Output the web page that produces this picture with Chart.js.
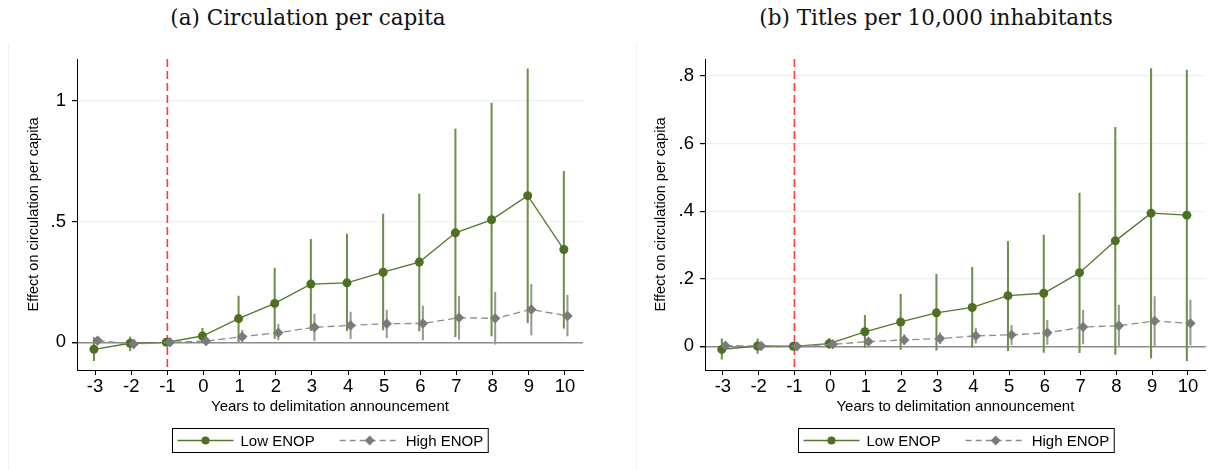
<!DOCTYPE html>
<html>
<head>
<meta charset="utf-8">
<script src="https://cdn.jsdelivr.net/npm/chart.js@4"></script>
<style>
  body { margin: 0; background: #fff; }
  #page { position: relative; width: 1211px; height: 470px; overflow: hidden; }
  .title { position: absolute; top: 5px; font-family: "DejaVu Serif", "Liberation Serif", serif; font-size: 21.5px; color: #111; white-space: nowrap; transform: translateX(-50%); }
  .frame { position: absolute; top: 43px; width: 1px; height: 427px; background: #edf1f1; }
  .box { position: absolute; top: 0; height: 470px; }
</style>
</head>
<body>
<div id="page">
  <div class="title" style="left:308px">(a) Circulation per capita</div>
  <div class="title" style="left:936px">(b) Titles per 10,000 inhabitants</div>
  <div class="frame" style="left:8px"></div>
  <div class="frame" style="left:636px"></div>
  <div class="box" style="left:0; width:610px"><canvas id="chartA"></canvas></div>
  <div class="box" style="left:630px; width:581px"><canvas id="chartB"></canvas></div>
</div>
<script>
// years relative to the delimitation announcement
const years = [-3, -2, -1, 0, 1, 2, 3, 4, 5, 6, 7, 8, 9, 10];
const xTicks = [-3, -2, -1, 0, 1, 2, 3, 4, 5, 6, 7, 8, 9, 10];
const refYear = -1;
const lowShift = -0.03;
const highShift = 0.07;

// (a) circulation per capita
const circLow = [-0.029, -0.004, 0, 0.026, 0.098, 0.161, 0.241, 0.246, 0.290, 0.332, 0.453, 0.507, 0.607, 0.384];
const circLowLo = [-0.076, -0.035, null, 0.002, 0.002, 0.016, 0.048, 0.048, 0.051, 0.047, 0.023, 0.026, 0.081, 0.058];
const circLowHi = [0.020, 0.022, null, 0.058, 0.191, 0.307, 0.426, 0.448, 0.531, 0.614, 0.883, 0.990, 1.132, 0.708];
const circHigh = [0.007, -0.007, 0, 0.005, 0.023, 0.040, 0.062, 0.070, 0.077, 0.078, 0.102, 0.099, 0.136, 0.109];
const circHighLo = [-0.010, -0.025, null, -0.005, 0.002, 0.010, 0.007, 0.015, 0.019, 0.010, 0.012, -0.008, 0.030, 0.026];
const circHighHi = [0.020, 0.010, null, 0.020, 0.050, 0.074, 0.117, 0.125, 0.133, 0.150, 0.191, 0.207, 0.240, 0.195];
const circYTicks = [0, 0.5, 1];
const circYLabels = ["0", ".5", "1"];

// (b) titles per 10,000 inhabitants
const titlesLow = [-0.009, 0.001, 0, 0.008, 0.043, 0.072, 0.099, 0.115, 0.150, 0.157, 0.218, 0.312, 0.394, 0.388];
const titlesLowLo = [-0.038, -0.021, null, -0.006, -0.003, -0.009, -0.011, -0.003, -0.013, -0.018, -0.019, -0.024, -0.034, -0.043];
const titlesLowHi = [0.022, 0.022, null, 0.024, 0.092, 0.154, 0.213, 0.234, 0.311, 0.329, 0.453, 0.648, 0.822, 0.817];
const titlesHigh = [0.002, 0.001, 0, 0.006, 0.014, 0.019, 0.023, 0.031, 0.034, 0.040, 0.057, 0.061, 0.075, 0.068];
const titlesHighLo = [-0.008, -0.008, null, -0.002, 0.004, 0.005, 0.008, 0.009, 0.005, 0.006, 0.007, 0.001, 0.001, 0.004];
const titlesHighHi = [0.012, 0.010, null, 0.014, 0.025, 0.035, 0.040, 0.054, 0.062, 0.077, 0.107, 0.122, 0.147, 0.137];
const titlesYTicks = [0, 0.2, 0.4, 0.6, 0.8];
const titlesYLabels = ["0", ".2", ".4", ".6", ".8"];

const GREEN = "#55772d";
const GREEN_DOT = "#4d7024";
const GREEN_CI = "#6f8f4c";
const GREY = "#8c8c8c";
const GREY_DOT = "#7a7a7a";
const GREY_CI = "#999999";
const SANS = "'Liberation Sans', Arial, sans-serif";

function points(vals, shift) {
  return years.map((yr, i) => ({ x: yr + shift, y: vals[i] }));
}
function bars(lo, hi, shift) {
  return years
    .map((yr, i) => (lo[i] === null ? null : { x: yr + shift, y: [lo[i], hi[i]] }))
    .filter((d) => d !== null);
}

// red dashed line at the reference year
const refLine = {
  id: "refLine",
  beforeDatasetsDraw(chart) {
    const { ctx, chartArea } = chart;
    const x = chart.scales.x.getPixelForValue(refYear);
    ctx.save();
    ctx.strokeStyle = "#ff3b3b";
    ctx.lineWidth = 1.6;
    ctx.setLineDash([8, 4]);
    ctx.beginPath();
    ctx.moveTo(x, chartArea.top);
    ctx.lineTo(x, chartArea.bottom);
    ctx.stroke();
    ctx.restore();
  },
};

// Stata style legend box under the x axis title
const boxLegend = {
  id: "boxLegend",
  afterDraw(chart) {
    const { ctx, chartArea } = chart;
    ctx.save();
    ctx.font = "15px " + SANS;
    const t1 = "Low ENOP";
    const t2 = "High ENOP";
    const w1 = ctx.measureText(t1).width;
    const w2 = ctx.measureText(t2).width;
    const width = 5 + 56 + 7 + w1 + 25 + 60 + 6 + w2 + 5;
    const left = Math.round((chartArea.left + chartArea.right) / 2 - width / 2) + 0.5;
    const top = chartArea.bottom + 58.5;
    const h = 24;
    const mid = top + h / 2;
    ctx.strokeStyle = "#000";
    ctx.lineWidth = 1;
    ctx.strokeRect(left, top, width, h);

    let x = left + 5;
    ctx.strokeStyle = GREEN;
    ctx.lineWidth = 1.3;
    ctx.beginPath();
    ctx.moveTo(x, mid);
    ctx.lineTo(x + 56, mid);
    ctx.stroke();
    ctx.fillStyle = GREEN_DOT;
    ctx.beginPath();
    ctx.arc(x + 28, mid, 4, 0, Math.PI * 2);
    ctx.fill();
    x += 63;
    ctx.fillStyle = "#000";
    ctx.textBaseline = "middle";
    ctx.fillText(t1, x, mid + 1);
    x += w1 + 25;

    ctx.strokeStyle = GREY;
    ctx.setLineDash([6, 4]);
    ctx.beginPath();
    ctx.moveTo(x, mid);
    ctx.lineTo(x + 60, mid);
    ctx.stroke();
    ctx.setLineDash([]);
    ctx.fillStyle = GREY_DOT;
    ctx.beginPath();
    ctx.moveTo(x + 30 - 5, mid);
    ctx.lineTo(x + 30, mid - 5);
    ctx.lineTo(x + 30 + 5, mid);
    ctx.lineTo(x + 30, mid + 5);
    ctx.closePath();
    ctx.fill();
    x += 66;
    ctx.fillStyle = "#000";
    ctx.fillText(t2, x, mid + 1);
    ctx.restore();
  },
};

function makeChart(id, low, lowLo, lowHi, high, highLo, highHi, yTicks, yLabels, yMin, yMax, padLeft, titlePad, padRight) {
  return new Chart(document.getElementById(id), {
    type: "line",
    data: {
      datasets: [
        {
          type: "bar",
          data: bars(lowLo, lowHi, lowShift),
          backgroundColor: GREEN_CI,
          borderWidth: 0,
          barThickness: 1.4,
          maxBarThickness: 1.4,
          grouped: false,
          order: 4,
        },
        {
          type: "bar",
          data: bars(highLo, highHi, highShift),
          backgroundColor: GREY_CI,
          borderWidth: 0,
          barThickness: 1.4,
          maxBarThickness: 1.4,
          grouped: false,
          order: 3,
        },
        {
          label: "Low ENOP",
          data: points(low, lowShift),
          borderColor: GREEN,
          borderWidth: 1.3,
          pointStyle: "circle",
          pointRadius: 4.5,
          pointBackgroundColor: GREEN_DOT,
          pointBorderWidth: 0,
          tension: 0,
          order: 2,
        },
        {
          label: "High ENOP",
          data: points(high, highShift),
          borderColor: GREY,
          borderWidth: 1.3,
          borderDash: [7, 4],
          pointStyle: "rectRot",
          pointRadius: 5.2,
          pointBackgroundColor: GREY_DOT,
          pointBorderWidth: 0,
          tension: 0,
          order: 1,
        },
      ],
    },
    options: {
      responsive: false,
      animation: false,
      layout: { padding: { left: padLeft, right: padRight, top: 59, bottom: 55 } },
      plugins: { legend: { display: false }, tooltip: { enabled: false } },
      scales: {
        x: {
          type: "linear",
          min: -3.5,
          max: 10.5,
          offset: false,
          afterBuildTicks: (s) => { s.ticks = xTicks.map((v) => ({ value: v })); },
          afterFit: (s) => { s.height = 45; },
          ticks: { font: { size: 18.5, family: SANS }, color: "#000", padding: 1, maxRotation: 0, autoSkip: false },
          grid: { drawOnChartArea: false, drawTicks: true, tickLength: 5, tickColor: "#000", offset: false },
          border: { display: true, color: "#000", width: 1 },
          title: { display: true, text: "Years to delimitation announcement", font: { size: 15, family: SANS }, color: "#000", padding: { top: 0, bottom: -1 } },
        },
        y: {
          min: yMin,
          max: yMax,
          afterBuildTicks: (s) => { s.ticks = yTicks.map((v) => ({ value: v })); },
          afterFit: (s) => { s.width = 69; },
          ticks: {
            font: { size: 18.5, family: SANS },
            color: "#000",
            padding: 6,
            callback: (v) => yLabels[yTicks.indexOf(v)],
          },
          grid: {
            color: (c) => (c.tick && c.tick.value === 0 ? "#8a8a8a" : "#eaf0f3"),
            lineWidth: (c) => (c.tick && c.tick.value === 0 ? 1.4 : 1.2),
            tickLength: 5,
            tickColor: "#000",
          },
          border: { display: true, color: "#000", width: 1 },
          title: { display: true, text: "Effect on circulation per capita", font: { size: 14.5, family: SANS }, color: "#000", padding: { top: titlePad, bottom: 0 } },
        },
      },
    },
    plugins: [refLine, boxLegend],
  });
}

const cA = document.getElementById("chartA");
cA.width = 610; cA.height = 470;
const cB = document.getElementById("chartB");
cB.width = 581; cB.height = 470;

makeChart("chartA", circLow, circLowLo, circLowHi, circHigh, circHighLo, circHighHi,
  circYTicks, circYLabels, -0.1147, 1.1726, 8, 17, 27);
makeChart("chartB", titlesLow, titlesLowLo, titlesLowHi, titlesHigh, titlesHighLo, titlesHighHi,
  titlesYTicks, titlesYLabels, -0.070, 0.850, 6, 16, 0);
</script>
</body>
</html>
